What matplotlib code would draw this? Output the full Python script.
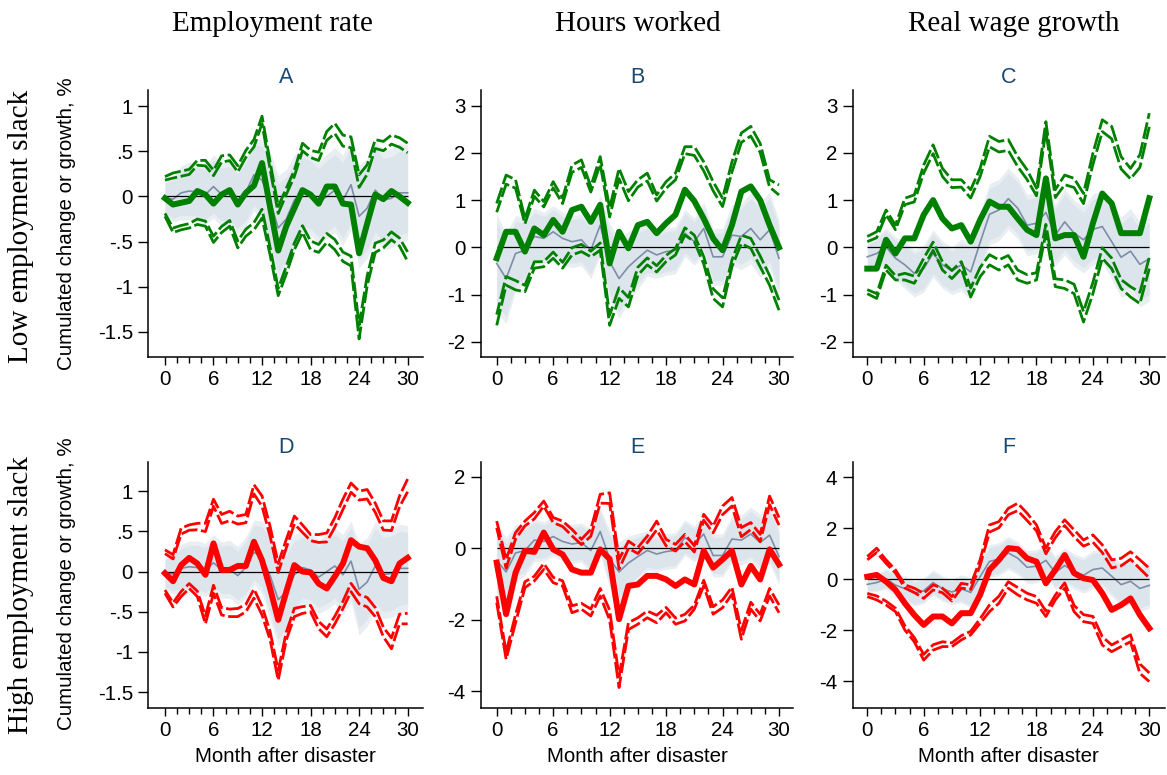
import matplotlib
matplotlib.use("Agg")
import matplotlib.pyplot as plt
import numpy as np

months = list(range(31))

# employment rate
emp_low = [-0.02, -0.09, -0.07, -0.05, 0.06, 0.02, -0.08, 0.02, 0.07, -0.09, 0.04, 0.12, 0.37, -0.12, -0.60, -0.33,
           -0.13, 0.07, 0.02, -0.08, 0.11, 0.11, -0.08, -0.09, -0.63, -0.30, 0.02, -0.03, 0.06, 0.0, -0.07]
emp_low_hi = [0.22, 0.26, 0.28, 0.30, 0.40, 0.40, 0.29, 0.45, 0.46, 0.34, 0.51, 0.63, 0.89, 0.38, -0.11, 0.09,
              0.29, 0.59, 0.51, 0.49, 0.72, 0.81, 0.68, 0.66, 0.24, 0.35, 0.63, 0.61, 0.68, 0.65, 0.59]
emp_low_lo = [-0.22, -0.40, -0.37, -0.35, -0.31, -0.33, -0.51, -0.40, -0.33, -0.57, -0.44, -0.37, -0.24, -0.65,
              -1.10, -0.86, -0.59, -0.40, -0.59, -0.62, -0.51, -0.59, -0.72, -0.77, -1.58, -0.99, -0.62, -0.57,
              -0.48, -0.55, -0.72]
emp_high = [-0.02, -0.12, 0.08, 0.17, 0.10, -0.04, 0.35, 0.02, 0.02, 0.07, 0.07, 0.37, 0.14, -0.21, -0.60, -0.25,
            0.08, 0.0, -0.01, -0.15, -0.21, -0.06, 0.10, 0.39, 0.31, 0.29, 0.14, -0.08, -0.12, 0.10, 0.17]
emp_high_hi = [0.27, 0.21, 0.54, 0.58, 0.60, 0.60, 0.90, 0.71, 0.75, 0.69, 0.71, 1.08, 0.94, 0.56, 0.10, 0.40,
               0.69, 0.58, 0.46, 0.46, 0.48, 0.67, 0.90, 1.10, 1.00, 1.02, 0.85, 0.63, 0.63, 0.94, 1.15]
emp_high_lo = [-0.27, -0.44, -0.31, -0.21, -0.31, -0.65, -0.27, -0.54, -0.56, -0.56, -0.50, -0.33, -0.54, -0.85,
               -1.35, -0.85, -0.56, -0.52, -0.50, -0.71, -0.81, -0.65, -0.46, -0.25, -0.40, -0.44, -0.56, -0.81,
               -0.96, -0.65, -0.65]
emp_base = [-0.02, -0.03, 0.04, 0.06, 0.05, 0.02, 0.11, 0.02, 0.03, -0.05, 0.05, 0.24, 0.18, -0.05, -0.35, -0.25,
            -0.04, 0.05, 0.02, -0.07, 0.0, 0.07, -0.04, 0.13, -0.22, -0.13, 0.07, -0.04, -0.02, 0.04, 0.04]
emp_base_hw = [0.2, 0.25, 0.3, 0.32, 0.33, 0.33, 0.35, 0.35, 0.36, 0.36, 0.38, 0.4, 0.45, 0.55, 0.58, 0.55, 0.5,
               0.45, 0.45, 0.45, 0.47, 0.47, 0.5, 0.5, 0.57, 0.55, 0.55, 0.55, 0.55, 0.55, 0.53]

# hours worked
hours_low = [-0.23, 0.33, 0.33, -0.09, 0.40, 0.26, 0.58, 0.33, 0.79, 0.86, 0.54, 0.90, -0.34, 0.33, -0.02, 0.47,
             0.54, 0.30, 0.51, 0.69, 1.22, 0.98, 0.61, 0.19, -0.06, 0.47, 1.18, 1.29, 1.00, 0.47, 0.0]
hours_low_hi = [0.93, 1.53, 1.43, 0.61, 1.21, 0.97, 1.39, 1.04, 1.74, 1.85, 1.29, 1.92, 0.83, 1.67, 1.18, 1.43,
                1.57, 1.11, 1.39, 1.57, 2.13, 2.13, 1.81, 1.39, 1.04, 1.81, 2.42, 2.56, 2.20, 1.43, 1.32]
hours_low_lo = [-1.65, -0.80, -0.90, -0.94, -0.44, -0.41, -0.23, -0.44, -0.16, -0.09, -0.20, -0.06, -1.65, -1.08,
                -1.26, -0.59, -0.37, -0.52, -0.30, -0.16, 0.26, 0.12, -0.35, -1.08, -1.26, -0.41, 0.08, -0.02,
                -0.41, -0.80, -1.33]
hours_high = [-0.40, -1.84, -0.68, -0.07, -0.10, 0.44, -0.03, -0.17, -0.59, -0.68, -0.68, -0.03, -0.30, -1.98,
              -1.05, -1.01, -0.77, -0.77, -0.87, -1.05, -0.87, -1.01, -0.07, -0.54, -0.31, -0.07, -1.01, -0.49,
              -0.87, -0.03, -0.45]
hours_high_hi = [0.76, -0.31, 0.44, 0.76, 1.0, 1.32, 0.86, 0.76, 0.53, 0.25, 0.53, 1.51, 1.55, -0.31, 0.20, 0.02,
                 0.34, 0.76, 0.25, 0.11, 0.39, 0.07, 0.95, 0.62, 1.18, 1.42, 0.58, 0.72, 0.39, 1.46, 0.86]
hours_high_lo = [-1.52, -3.10, -2.08, -1.10, -0.91, -0.59, -0.96, -1.05, -1.80, -1.70, -1.89, -1.33, -2.00, -3.89,
                 -2.27, -2.12, -1.94, -2.08, -1.80, -2.12, -2.03, -1.70, -1.05, -1.84, -1.66, -1.28, -2.54, -1.70,
                 -2.03, -1.33, -1.80]
hours_base = [-0.34, -0.66, -0.13, -0.06, 0.23, 0.19, 0.33, 0.19, 0.12, 0.16, -0.06, 0.47, -0.30, -0.66, -0.41,
              -0.23, -0.06, -0.16, -0.09, -0.06, 0.30, 0.12, 0.40, -0.20, -0.20, 0.26, 0.23, 0.40, 0.16, 0.37, -0.23]
hours_base_hw = [1.05, 0.95, 0.8, 0.7, 0.6, 0.55, 0.55, 0.55, 0.55, 0.55, 0.6, 0.65, 0.8, 0.85, 0.75, 0.65, 0.55,
                 0.5, 0.5, 0.5, 0.5, 0.5, 0.55, 0.6, 0.6, 0.65, 0.7, 0.75, 0.8, 0.8, 0.8]

# real wage growth
wage_low = [-0.45, -0.45, 0.16, -0.13, 0.19, 0.19, 0.69, 1.0, 0.61, 0.40, 0.47, 0.12, 0.58, 0.97, 0.86, 0.86, 0.61,
            0.37, 0.26, 1.46, 0.19, 0.26, 0.26, -0.20, 0.51, 1.14, 0.93, 0.30, 0.30, 0.30, 1.04]
wage_low_hi = [0.23, 0.33, 0.79, 0.47, 1.04, 1.11, 1.74, 2.17, 1.67, 1.43, 1.43, 1.22, 1.67, 2.35, 2.24, 2.28, 1.92,
               1.64, 1.25, 2.66, 1.22, 1.53, 1.46, 1.14, 1.99, 2.70, 2.56, 1.92, 1.67, 1.96, 2.84]
wage_low_lo = [-0.98, -1.08, -0.48, -0.69, -0.69, -0.76, -0.41, -0.06, -0.48, -0.66, -0.45, -1.05, -0.62, -0.37,
               -0.48, -0.37, -0.69, -0.76, -0.69, 0.30, -0.83, -0.87, -0.98, -1.58, -0.98, -0.23, -0.45, -0.87,
               -1.05, -1.19, -0.45]
wage_high = [0.10, 0.17, -0.09, -0.42, -0.94, -1.40, -1.79, -1.46, -1.46, -1.73, -1.33, -1.33, -0.61, 0.37, 0.76,
             1.22, 1.18, 0.82, 0.69, -0.16, 0.37, 0.95, 0.24, 0.04, -0.03, -0.55, -1.20, -1.01, -0.75, -1.40, -1.92]
wage_high_hi = [0.89, 1.22, 0.76, 0.37, -0.22, -0.35, -0.55, -0.22, -0.35, -0.68, -0.16, -0.22, 0.76, 2.13, 2.26,
                2.78, 2.98, 2.59, 2.13, 1.22, 1.87, 2.33, 1.94, 1.54, 1.74, 1.35, 0.76, 0.82, 1.08, 0.76, 0.43]
wage_high_lo = [-0.68, -0.81, -1.01, -1.27, -1.99, -2.45, -3.17, -2.78, -2.64, -2.64, -2.38, -2.18, -1.73, -1.27,
                -0.94, -0.35, -0.61, -0.81, -0.94, -1.46, -0.81, -0.35, -1.27, -1.66, -1.73, -2.58, -2.84, -2.64,
                -2.45, -3.69, -4.01]
wage_base = [-0.20, -0.13, 0.01, -0.23, -0.37, -0.55, -0.45, -0.13, -0.37, -0.50, -0.37, -0.52, 0.10, 0.70, 0.79,
             1.03, 0.83, 0.47, 0.51, 0.74, 0.26, 0.54, 0.30, 0.16, 0.38, 0.44, 0.12, -0.21, -0.08, -0.36, -0.24]
wage_base_hw = [0.3, 0.35, 0.4, 0.45, 0.5, 0.5, 0.5, 0.5, 0.5, 0.5, 0.55, 0.6, 0.65, 0.65, 0.65, 0.65, 0.65, 0.65,
                0.65, 0.65, 0.65, 0.7, 0.7, 0.7, 0.75, 0.75, 0.8, 0.85, 0.9, 0.9, 0.9]

col_titles = ["Employment rate", "Hours worked", "Real wage growth"]
row_titles = ["Low employment slack", "High employment slack"]
panel_letters = ["A", "B", "C", "D", "E", "F"]
ytitle = "Cumulated change or growth, %"
xtitle = "Month after disaster"

SANS = ["Liberation Sans", "DejaVu Sans"]
SERIF = ["Liberation Serif", "DejaVu Serif"]
W, H = 1167.0, 775.0
Z90 = 1.645 / 1.96
FS = 14.8


def fx(px):
    return px / W


def fy(px):
    return 1 - px / H


def draw_panel(ax, est, hi, lo, base, base_hw, color):
    x = np.array(months)
    est = np.array(est)
    base = np.array(base)
    hw = np.array(base_hw)
    ax.fill_between(x, base - hw, base + hw, color="#e9eef3", lw=0, zorder=1)
    ax.fill_between(x, base - Z90 * hw, base + Z90 * hw, color="#dde5ec", lw=0, zorder=1)
    ax.plot(x, base, color="#7d8da8", lw=1.2, zorder=2)
    ax.hlines(0, months[0], months[-1], color="black", lw=0.9, zorder=3)
    for b in (hi, lo):
        b = np.array(b)
        ax.plot(x, b, color=color, lw=2.0, ls=(0, (6, 1.3)), zorder=4)
        ax.plot(x, est + Z90 * (b - est), color=color, lw=2.0, ls=(1.5, (6, 1.3)), zorder=4)
    ax.plot(x, est, color=color, lw=4.3, zorder=5)


def style_axes(ax, xlim, ylim, yticks, ylabels):
    ax.set_xlim(*xlim)
    ax.set_ylim(*ylim)
    for s in ("top", "right"):
        ax.spines[s].set_visible(False)
    for s in ("left", "bottom"):
        ax.spines[s].set_linewidth(1.1)
    ax.set_xticks(range(0, 31, 6))
    ax.set_xticks(np.arange(0, 31, 1.5), minor=True)
    ax.set_yticks(yticks)
    ax.set_yticklabels(ylabels)
    ax.tick_params(axis="x", which="major", length=5.5, width=1.0, pad=4, labelsize=FS)
    ax.tick_params(axis="x", which="minor", length=4, width=1.0)
    ax.tick_params(axis="y", which="major", length=7, width=1.0, pad=4, labelsize=FS)
    for lab in ax.get_xticklabels() + ax.get_yticklabels():
        lab.set_fontfamily(SANS)


def main():
    fig = plt.figure(figsize=(W / 100, H / 100), dpi=100)

    # pixel boxes: left, right of each column; top, bottom of each row
    cols = [(148.3, 423.0), (481.0, 793.3), (852.7, 1165.0)]
    rows = [(90.0, 357.0), (461.7, 708.3)]
    xlims = [(-2.06, 31.9), (-1.67, 31.52), (-1.55, 31.67)]
    ylims = [[(-1.78, 1.18), (-2.32, 3.33), (-2.32, 3.33)],
             [(-1.70, 1.366), (-4.47, 2.42), (-5.06, 4.61)]]
    yticks = [[([-1.5, -1, -0.5, 0, 0.5, 1], ["-1.5", "-1", "-.5", "0", ".5", "1"]),
               ([-2, -1, 0, 1, 2, 3], ["-2", "-1", "0", "1", "2", "3"]),
               ([-2, -1, 0, 1, 2, 3], ["-2", "-1", "0", "1", "2", "3"])],
              [([-1.5, -1, -0.5, 0, 0.5, 1], ["-1.5", "-1", "-.5", "0", ".5", "1"]),
               ([-4, -2, 0, 2], ["-4", "-2", "0", "2"]),
               ([-4, -2, 0, 2, 4], ["-4", "-2", "0", "2", "4"])]]

    data = [[(emp_low, emp_low_hi, emp_low_lo), (hours_low, hours_low_hi, hours_low_lo),
             (wage_low, wage_low_hi, wage_low_lo)],
            [(emp_high, emp_high_hi, emp_high_lo), (hours_high, hours_high_hi, hours_high_lo),
             (wage_high, wage_high_hi, wage_high_lo)]]
    bases = [(emp_base, emp_base_hw), (hours_base, hours_base_hw), (wage_base, wage_base_hw)]
    colors = ["#008000", "#ff0000"]
    title_pads = [5.0, 6.0]

    for r, (top, bot) in enumerate(rows):
        for c, (left, right) in enumerate(cols):
            ax = fig.add_axes([fx(left), fy(bot), fx(right - left), (bot - top) / H])
            est, hi, lo = data[r][c]
            base, hw = bases[c]
            draw_panel(ax, est, hi, lo, base, hw, colors[r])
            yt, yl = yticks[r][c]
            style_axes(ax, xlims[c], ylims[r][c], yt, yl)
            ax.set_title(panel_letters[r * 3 + c], color="#1a476f", fontsize=15.5,
                         family=SANS, pad=title_pads[r])
            if r == 1:
                ax.set_xlabel(xtitle, fontsize=FS, family=SANS, labelpad=5)

    # column headers and row labels
    for x, t in zip([272, 637.5, 1013.5], col_titles):
        fig.text(fx(x), fy(30.7), t, ha="center", va="baseline", fontsize=21, family=SERIF)
    for y, t in zip([226.5, 595], row_titles):
        fig.text(fx(21.5), fy(y), t, ha="center", va="center", rotation=90, fontsize=21, family=SERIF)
    for y in (224, 584):
        fig.text(fx(66.7), fy(y), ytitle, ha="center", va="center", rotation=90, fontsize=FS, family=SANS)

    fig.savefig("out.png", dpi=100)


if __name__ == '__main__':
    main()
